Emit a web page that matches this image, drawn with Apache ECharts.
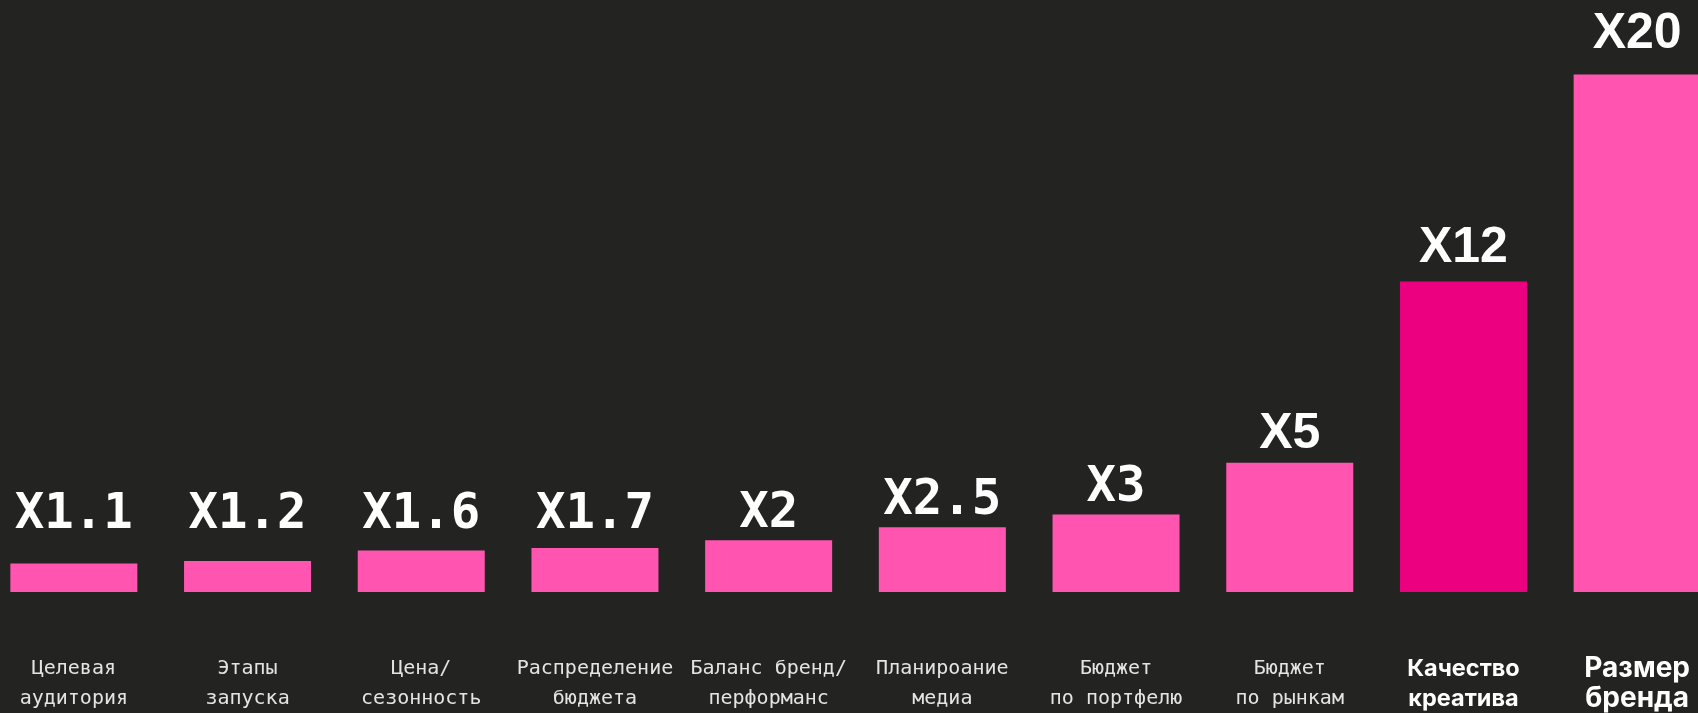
<!DOCTYPE html>
<html>
<head>
<meta charset="utf-8">
<script src="https://cdn.jsdelivr.net/npm/echarts@6/dist/echarts.min.js"></script>
<style>
html,body{margin:0;padding:0;background:#232422;overflow:hidden;width:1698px;height:713px;position:relative;}
#chart{width:1737px;height:713px;position:absolute;left:-13px;top:0;}
</style>
</head>
<body>
<div id="chart"></div>
<script>
const categories = [
  'Целевая\nаудитория',
  'Этапы\nзапуска',
  'Цена/\nсезонность',
  'Распределение\nбюджета',
  'Баланс бренд/\nперформанс',
  'Планироание\nмедиа',
  'Бюджет\nпо портфелю',
  'Бюджет\nпо рынкам',
  'Качество\nкреатива',
  'Размер\nбренда'
];
const values = [1.1, 1.2, 1.6, 1.7, 2, 2.5, 3, 5, 12, 20];
const highlightIndex = 8;

const chartHeight = 713, gridTop = 74.5, gridBottom = 120.5, yMax = 20;
const ppu = (chartHeight - gridTop - gridBottom) / yMax;

const data = values.map((v, i) => {
  const mono = v < 5;
  const baseGap = 10 + v * 0.8;
  const lift = Math.max(2 - v, 0) * ppu;
  return {
    value: v,
    itemStyle: { color: i === highlightIndex ? '#EC0080' : '#FF55B0' },
    label: {
      distance: baseGap + lift - 10,
      fontFamily: mono ? 'DejaVu Sans Mono' : 'Liberation Sans',
      fontSize: mono ? 49 : 50,
      lineHeight: 48
    }
  };
});

const chart = echarts.init(document.getElementById('chart'));
chart.setOption({
  backgroundColor: '#232422',
  animation: false,
  grid: { left: 0, right: 0, top: gridTop, bottom: gridBottom, containLabel: false },
  xAxis: {
    type: 'category',
    data: categories,
    axisLine: { show: false },
    axisTick: { show: false },
    axisLabel: {
      interval: 0,
      margin: 62,
      formatter: function (val, idx) {
        const lines = val.split('\n');
        const key = idx === 9 ? 'c' : (idx === 8 ? 'b' : 'a');
        return lines.map(l => '{' + key + '|' + l + '}').join('\n');
      },
      rich: {
        a: { fontFamily: 'DejaVu Sans Mono', fontSize: 20, lineHeight: 30, color: '#e4e4e4' },
        b: { fontFamily: 'Inter', fontWeight: 'bold', fontSize: 23.5, lineHeight: 30, color: '#ffffff' },
        c: { fontFamily: 'Inter', fontWeight: 'bold', fontSize: 28, lineHeight: 30, color: '#ffffff' }
      }
    }
  },
  yAxis: {
    type: 'value',
    min: 0,
    max: yMax,
    show: false,
    splitLine: { show: false }
  },
  series: [{
    type: 'bar',
    data: data,
    barWidth: 127,
    label: {
      show: true,
      position: 'top',
      color: '#ffffff',
      fontWeight: 'bold',
      formatter: p => 'X' + p.value
    }
  }]
});
</script>
</body>
</html>
